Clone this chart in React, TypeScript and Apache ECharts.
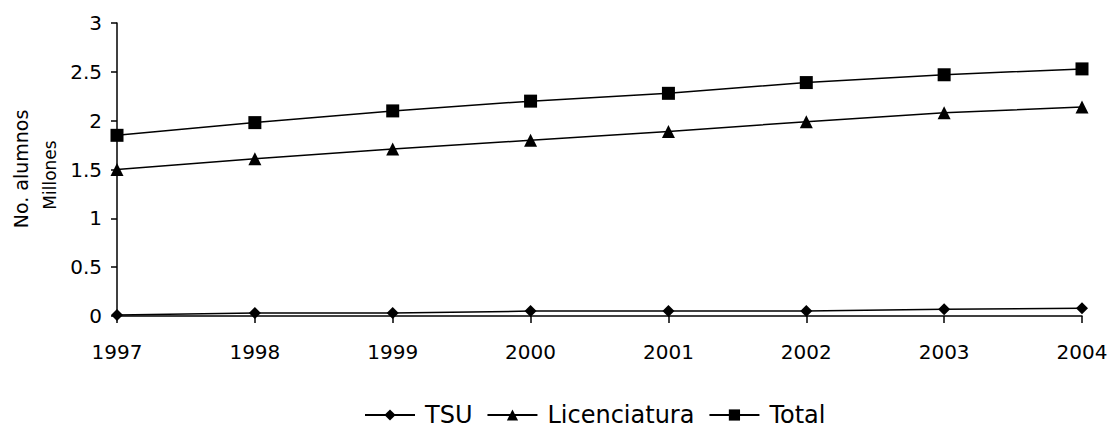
import React, { useEffect, useRef } from "react";
import * as echarts from "echarts";

const years = ["1997", "1998", "1999", "2000", "2001", "2002", "2003", "2004"];
const tsu = [0.01, 0.03, 0.03, 0.05, 0.05, 0.05, 0.07, 0.08];
const licenciatura = [1.5, 1.61, 1.71, 1.8, 1.89, 1.99, 2.08, 2.14];
const total = [1.85, 1.98, 2.1, 2.2, 2.28, 2.39, 2.47, 2.53];

const FONT = "'DejaVu Sans', 'Liberation Sans', Arial, sans-serif";
const INK = "#000000";

export default function App() {
  const ref = useRef<HTMLDivElement>(null);

  useEffect(() => {
    if (!ref.current) return;
    const chart = echarts.init(ref.current, undefined, { renderer: "svg" });

    const lineSeries = (name: string, data: number[], symbol: string, size: number) => ({
      name,
      type: "line",
      data,
      symbol,
      symbolSize: size,
      showSymbol: true,
      lineStyle: { color: INK, width: 1.5 },
      itemStyle: { color: INK, borderWidth: 0 },
      emphasis: { disabled: true },
      z: 3,
    });

    chart.setOption({
      animation: false,
      backgroundColor: "#ffffff",
      textStyle: { fontFamily: FONT, color: INK },
      grid: { left: 117, right: 30, top: 23, bottom: 113, containLabel: false },
      xAxis: {
        type: "category",
        data: years,
        boundaryGap: false,
        axisLine: { show: true, lineStyle: { color: INK, width: 1.5 } },
        axisTick: { show: true, length: 7, lineStyle: { color: INK, width: 1.5 } },
        axisLabel: { color: INK, fontSize: 20, fontFamily: FONT, margin: 26 },
        splitLine: { show: false },
      },
      yAxis: {
        type: "value",
        min: 0,
        max: 3,
        interval: 0.5,
        axisLine: { show: true, lineStyle: { color: INK, width: 1.5 } },
        axisTick: { show: true, length: 6, lineStyle: { color: INK, width: 1.5 } },
        axisLabel: { color: INK, fontSize: 20, fontFamily: FONT, margin: 15 },
        splitLine: { show: false },
      },
      legend: {
        left: 359,
        top: 398,
        itemWidth: 50,
        itemHeight: 14,
        itemGap: 14,
        textStyle: { color: INK, fontSize: 24, fontFamily: FONT, padding: [0, 0, 0, 5] },
        data: ["TSU", "Licenciatura", "Total"],
      },
      graphic: [
        {
          type: "text",
          x: 21,
          y: 169,
          rotation: Math.PI / 2,
          style: {
            text: "No. alumnos",
            fill: INK,
            font: `19px ${FONT}`,
            align: "center",
            verticalAlign: "middle",
          },
        },
        {
          type: "text",
          x: 50,
          y: 175,
          rotation: Math.PI / 2,
          style: {
            text: "Millones",
            fill: INK,
            font: `17px ${FONT}`,
            align: "center",
            verticalAlign: "middle",
          },
        },
      ],
      series: [
        lineSeries("TSU", tsu, "diamond", 12),
        lineSeries("Licenciatura", licenciatura, "triangle", 13),
        lineSeries("Total", total, "rect", 13),
      ],
    });

    return () => chart.dispose();
  }, []);

  return (
    <div
      ref={ref}
      style={{ position: "absolute", left: 0, top: 0, width: 1112, height: 429 }}
    />
  );
}
